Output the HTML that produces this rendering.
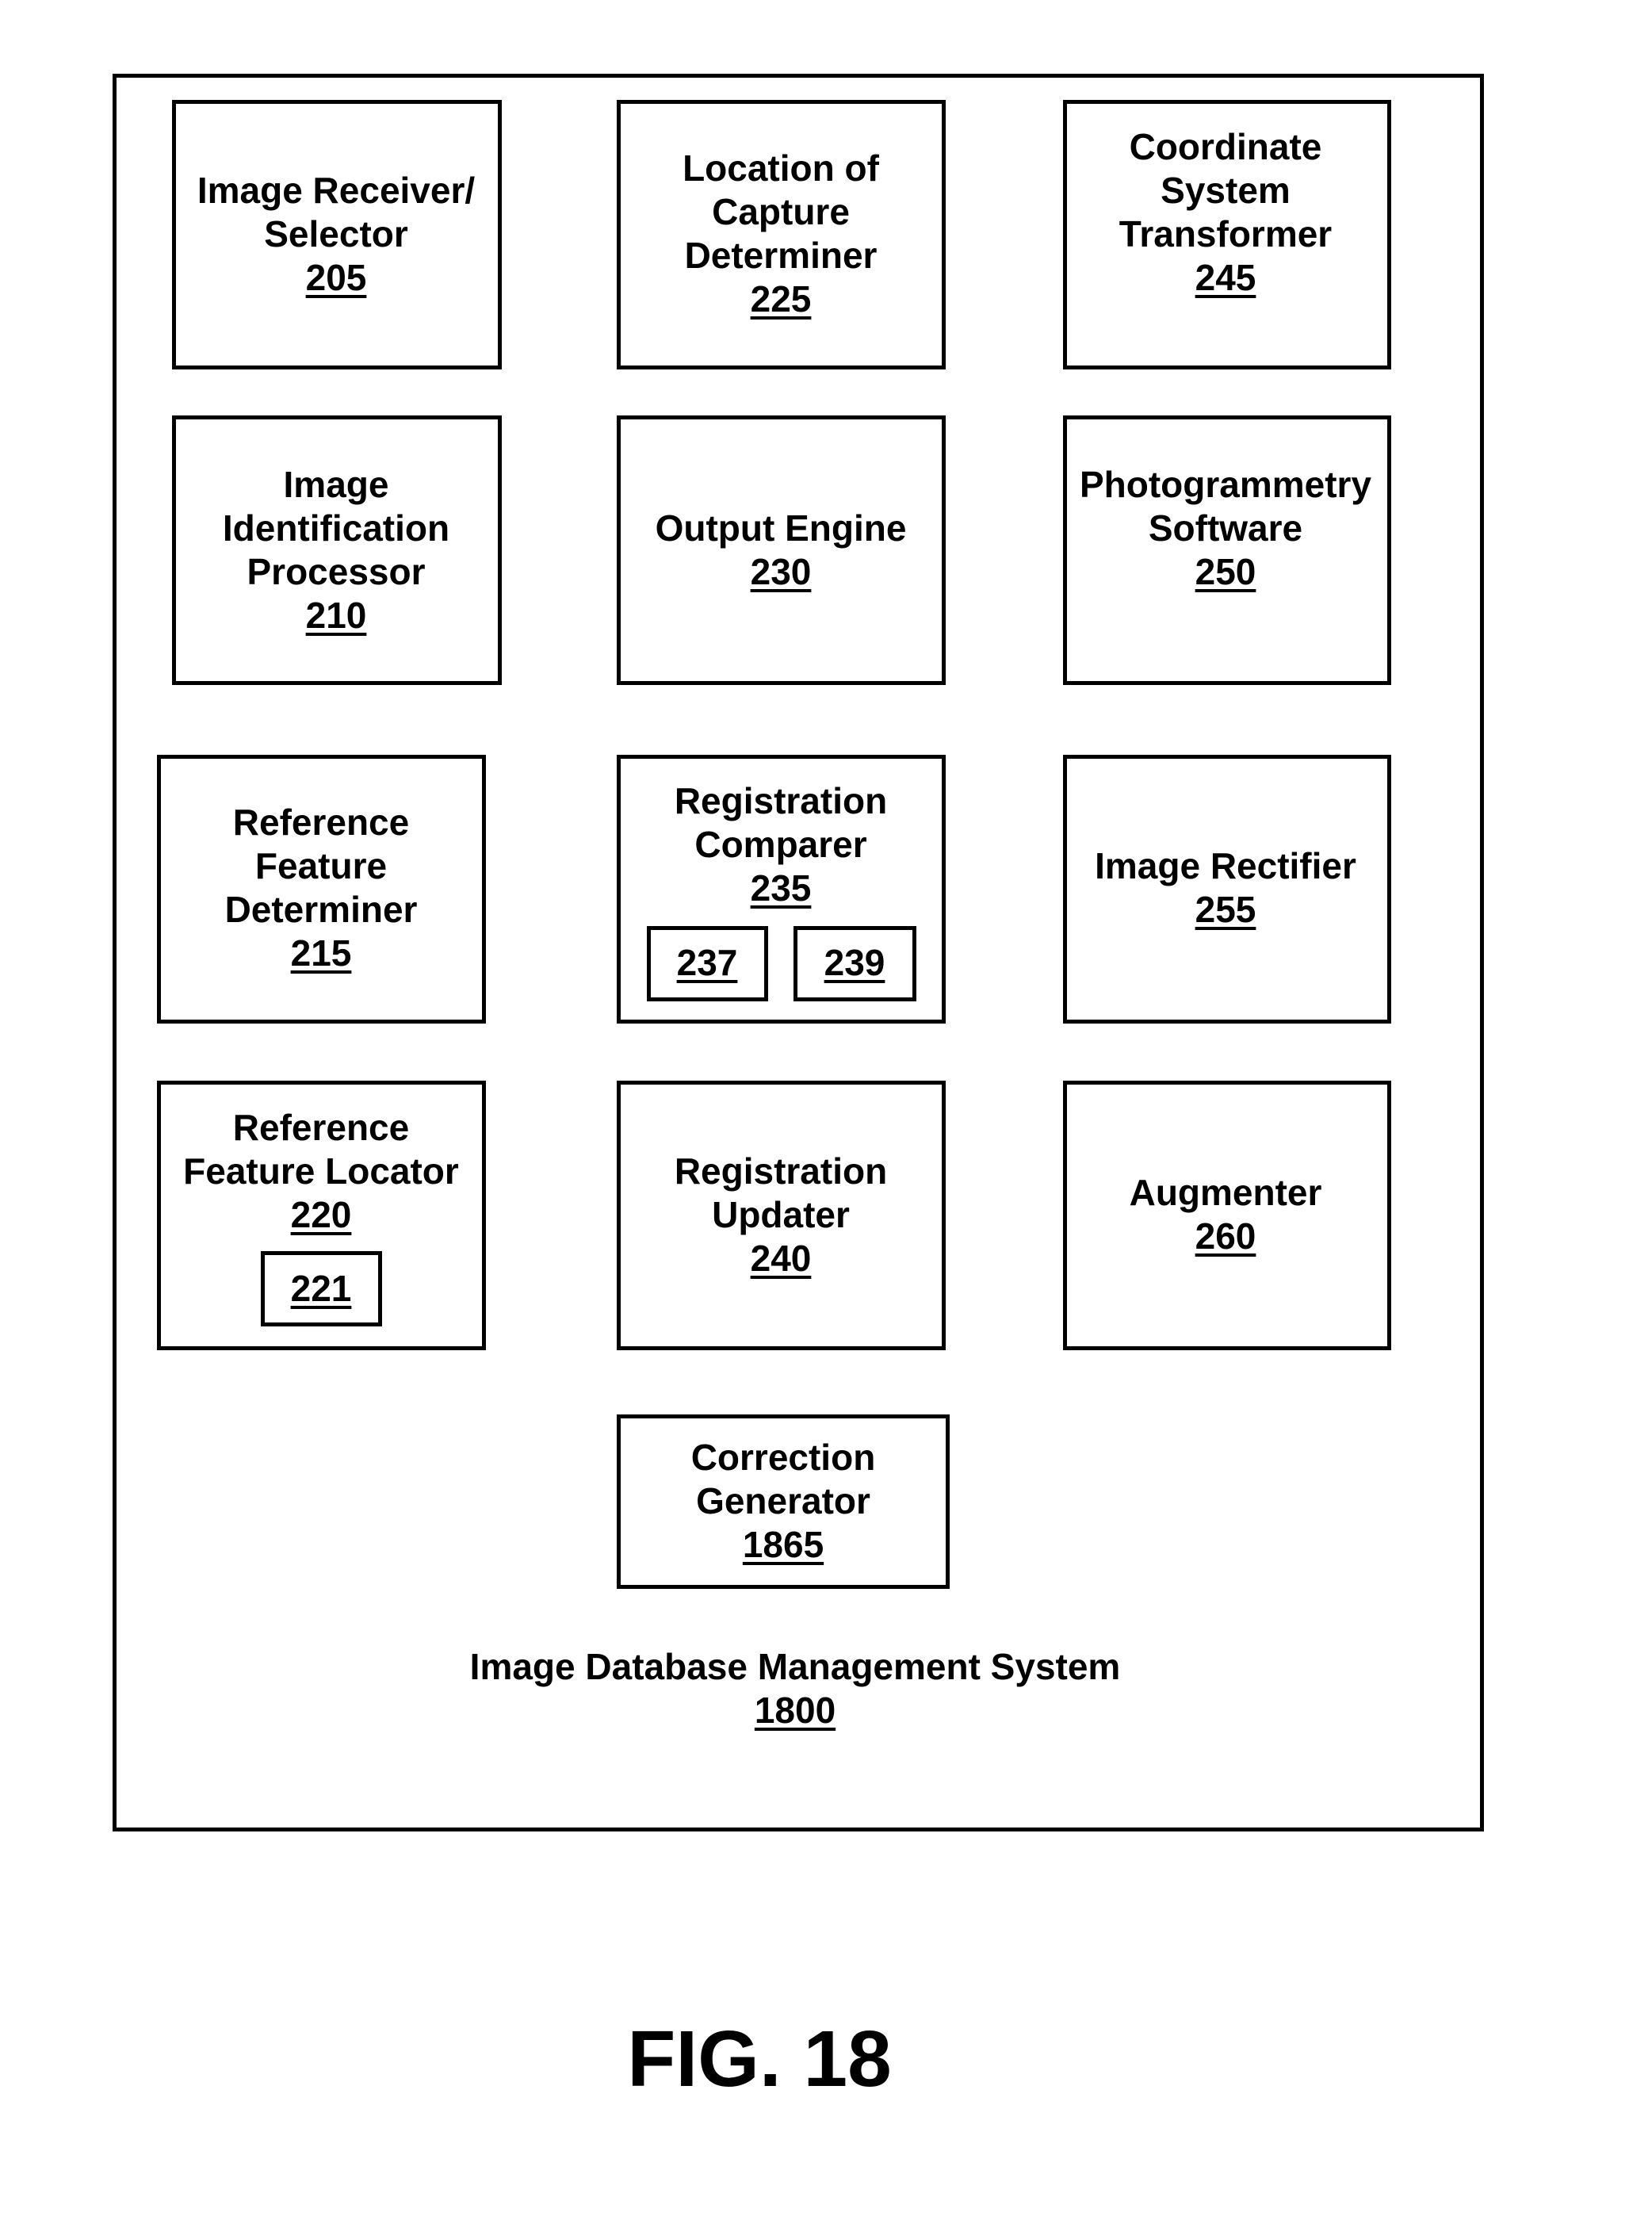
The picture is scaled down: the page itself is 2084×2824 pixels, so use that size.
<!DOCTYPE html>
<html><head><meta charset="utf-8"><style>
body{margin:0;background:#fff;}
#p{position:relative;width:2084px;height:2824px;background:#fff;overflow:hidden;font-family:"Liberation Sans",Arial,sans-serif;font-weight:bold;color:#000;}
.b{position:absolute;border:5px solid #000;box-sizing:border-box;}
.t{position:absolute;width:1200px;margin-left:-600px;text-align:center;font-size:46px;line-height:55px;height:55px;white-space:nowrap;}
.u{text-decoration:underline;text-decoration-thickness:4px;text-underline-offset:6px;}
</style></head><body><div id="p">
<div class="b" style="left:142px;top:93px;width:1730px;height:2217px"></div>
<div class="b" style="left:217px;top:126px;width:416px;height:340px"></div>
<div class="b" style="left:778px;top:126px;width:415px;height:340px"></div>
<div class="b" style="left:1341px;top:126px;width:414px;height:340px"></div>
<div class="b" style="left:217px;top:524px;width:416px;height:340px"></div>
<div class="b" style="left:778px;top:524px;width:415px;height:340px"></div>
<div class="b" style="left:1341px;top:524px;width:414px;height:340px"></div>
<div class="b" style="left:198px;top:952px;width:415px;height:339px"></div>
<div class="b" style="left:778px;top:952px;width:415px;height:339px"></div>
<div class="b" style="left:1341px;top:952px;width:414px;height:339px"></div>
<div class="b" style="left:198px;top:1363px;width:415px;height:340px"></div>
<div class="b" style="left:778px;top:1363px;width:415px;height:340px"></div>
<div class="b" style="left:1341px;top:1363px;width:414px;height:340px"></div>
<div class="b" style="left:778px;top:1784px;width:420px;height:220px"></div>
<div class="b" style="left:816px;top:1168px;width:153px;height:95px"></div>
<div class="b" style="left:1001px;top:1168px;width:155px;height:95px"></div>
<div class="b" style="left:329px;top:1578px;width:153px;height:95px"></div>

<div class="t" style="left:424px;top:213px">Image Receiver/</div>
<div class="t" style="left:424px;top:268px">Selector</div>
<div class="t" style="left:424px;top:323px"><span class="u">205</span></div>

<div class="t" style="left:985px;top:185px">Location of</div>
<div class="t" style="left:985px;top:240px">Capture</div>
<div class="t" style="left:985px;top:295px">Determiner</div>
<div class="t" style="left:985px;top:350px"><span class="u">225</span></div>

<div class="t" style="left:1546px;top:158px">Coordinate</div>
<div class="t" style="left:1546px;top:213px">System</div>
<div class="t" style="left:1546px;top:268px">Transformer</div>
<div class="t" style="left:1546px;top:323px"><span class="u">245</span></div>

<div class="t" style="left:424px;top:584px">Image</div>
<div class="t" style="left:424px;top:639px">Identification</div>
<div class="t" style="left:424px;top:694px">Processor</div>
<div class="t" style="left:424px;top:749px"><span class="u">210</span></div>

<div class="t" style="left:985px;top:639px">Output Engine</div>
<div class="t" style="left:985px;top:694px"><span class="u">230</span></div>

<div class="t" style="left:1546px;top:584px">Photogrammetry</div>
<div class="t" style="left:1546px;top:639px">Software</div>
<div class="t" style="left:1546px;top:694px"><span class="u">250</span></div>

<div class="t" style="left:405px;top:1010px">Reference</div>
<div class="t" style="left:405px;top:1065px">Feature</div>
<div class="t" style="left:405px;top:1120px">Determiner</div>
<div class="t" style="left:405px;top:1175px"><span class="u">215</span></div>

<div class="t" style="left:985px;top:983px">Registration</div>
<div class="t" style="left:985px;top:1038px">Comparer</div>
<div class="t" style="left:985px;top:1093px"><span class="u">235</span></div>
<div class="t" style="left:892px;top:1187px"><span class="u">237</span></div>
<div class="t" style="left:1078px;top:1187px"><span class="u">239</span></div>

<div class="t" style="left:1546px;top:1065px">Image Rectifier</div>
<div class="t" style="left:1546px;top:1120px"><span class="u">255</span></div>

<div class="t" style="left:405px;top:1395px">Reference</div>
<div class="t" style="left:405px;top:1450px">Feature Locator</div>
<div class="t" style="left:405px;top:1505px"><span class="u">220</span></div>
<div class="t" style="left:405px;top:1598px"><span class="u">221</span></div>

<div class="t" style="left:985px;top:1450px">Registration</div>
<div class="t" style="left:985px;top:1505px">Updater</div>
<div class="t" style="left:985px;top:1560px"><span class="u">240</span></div>

<div class="t" style="left:1546px;top:1477px">Augmenter</div>
<div class="t" style="left:1546px;top:1532px"><span class="u">260</span></div>

<div class="t" style="left:988px;top:1811px">Correction</div>
<div class="t" style="left:988px;top:1866px">Generator</div>
<div class="t" style="left:988px;top:1921px"><span class="u">1865</span></div>

<div class="t" style="left:1003px;top:2075px">Image Database Management System</div>
<div class="t" style="left:1003px;top:2130px"><span class="u">1800</span></div>

<div class="t" style="left:958px;top:2537px;font-size:100px;line-height:120px;height:120px">FIG. 18</div>
</div></body></html>
